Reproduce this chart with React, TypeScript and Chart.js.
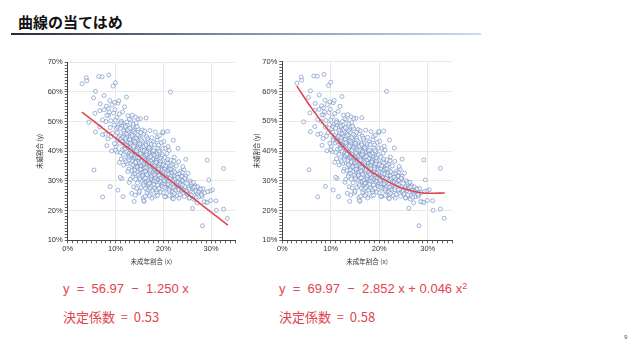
import React, { useEffect, useRef } from "react";
import { Chart, registerables } from "chart.js";

Chart.register(...registerables);

// ---- data (values in percent) ----
const xRange = [0, 35];
const yRange = [10, 70];
const majorStep = 10;

const outlierPoints: [number, number][] = [
  [3.0, 62.8], [3.9, 64.8], [4.0, 63.8], [6.5, 65.2], [7.2, 65.1], [8.6, 65.7], [10.0, 63.1], [9.5, 62.0],
  [5.4, 58.0], [5.8, 60.2], [7.6, 58.8], [12.3, 58.3], [21.5, 60.0], [4.4, 49.8], [5.8, 46.5], [5.7, 52.8],
  [5.5, 33.7], [7.3, 24.6], [8.9, 28.1], [10.5, 26.9], [11.0, 31.2], [11.6, 24.7], [13.9, 23.1], [15.9, 23.4],
  [18.8, 25.1], [23.1, 41.0], [24.7, 37.3], [26.1, 20.8], [28.2, 14.9], [29.2, 37.0], [29.5, 30.3], [32.6, 34.2],
  [32.6, 20.5], [33.4, 17.4], [31.1, 20.1], [29.9, 23.4], [30.3, 27.0], [29.8, 26.6], [29.3, 26.4], [31.0, 23.3],
  [28.5, 23.0], [29.2, 22.7], [27.4, 26.4], [27.8, 27.2], [25.4, 24.2], [25.9, 25.2], [26.5, 27.9], [23.9, 27.0],
  [24.1, 34.8], [24.0, 32.8], [23.9, 31.5], [24.5, 30.9], [20.9, 46.7], [19.9, 46.6], [22.1, 43.7], [22.2, 36.7],
  [21.6, 34.0], [21.0, 41.6], [19.1, 40.1], [19.0, 42.1], [20.3, 24.7], [21.3, 25.1], [22.1, 24.0], [22.3, 25.8],
  [16.4, 51.2], [14.7, 50.9], [13.7, 49.1], [12.1, 48.4], [11.1, 49.6], [10.8, 52.6], [10.5, 56.2], [10.7, 57.0],
  [9.8, 56.5], [9.3, 55.6], [8.8, 57.1], [8.5, 54.5], [8.7, 53.1], [8.5, 52.1], [9.0, 50.3], [8.0, 50.0],
  [7.3, 50.6], [6.7, 48.2], [6.7, 53.7], [6.8, 56.0], [7.6, 54.0], [8.2, 52.1], [8.9, 48.0], [7.9, 45.8],
  [9.4, 46.1], [8.2, 41.9], [9.2, 40.1], [9.8, 42.6], [11.3, 43.3], [10.0, 40.4], [7.3, 45.6], [9.6, 52.9],
  [9.1, 45.0], [8.4, 44.2], [9.7, 48.9], [8.1, 55.2], [9.9, 54.0], [11.5, 53.3], [12.6, 52.0], [12.9, 50.8],
  [13.5, 52.2], [14.2, 51.5], [11.9, 55.0], [10.3, 51.4], [28.0, 25.3], [26.9, 24.5], [27.1, 22.6], [23.3, 24.2],
];

const bandPoints: [number, number][] = [
  [10.2, 47.5], [10.8, 45.2], [10.5, 43.8], [10.1, 41.5], [10.7, 49.0], [10.4, 46.3], [10.9, 42.7], [10.3, 39.8], [10.6, 44.6], [10.0, 50.5], [10.8, 36.2], [10.5, 48.1],
  [11.3, 48.8], [11.7, 46.9], [11.1, 44.1], [11.9, 42.3], [11.4, 40.6], [11.6, 38.9], [11.2, 37.4], [11.8, 45.5], [11.5, 43.2], [11.0, 47.7], [11.4, 49.6], [11.9, 41.1], [11.7, 35.3], [11.3, 30.8], [11.1, 39.5], [11.6, 44.9], [11.8, 46.1], [11.2, 50.2],
  [12.4, 49.9], [12.1, 48.0], [12.8, 46.6], [12.5, 45.0], [12.2, 43.7], [12.9, 42.5], [12.6, 41.2], [12.3, 40.0], [12.7, 38.6], [12.0, 37.1], [12.5, 35.8], [12.8, 34.0], [12.1, 44.4], [12.6, 47.3], [12.9, 39.3], [12.4, 41.8], [12.2, 36.5], [12.7, 43.0], [12.3, 45.8], [12.6, 33.2], [12.9, 29.5], [12.5, 48.7], [12.0, 40.7], [12.8, 38.0], [12.2, 42.0],
  [13.2, 50.5], [13.6, 48.5], [13.9, 47.0], [13.4, 46.0], [13.1, 44.8], [13.7, 43.5], [13.3, 42.2], [13.8, 41.0], [13.5, 39.8], [13.0, 38.4], [13.6, 37.2], [13.2, 36.0], [13.9, 34.8], [13.4, 33.5], [13.7, 32.2], [13.1, 30.5], [13.5, 45.3], [13.8, 41.6], [13.3, 39.1], [13.9, 37.7], [13.0, 43.9], [13.6, 35.4], [13.2, 40.4], [13.7, 46.7], [13.8, 28.0], [13.4, 25.8], [13.1, 42.8], [13.5, 36.7], [13.9, 44.2], [13.3, 38.8], [13.6, 31.4], [13.0, 47.8],
  [14.3, 49.5], [14.7, 47.6], [14.1, 46.2], [14.9, 45.1], [14.5, 44.0], [14.2, 42.9], [14.8, 41.8], [14.4, 40.7], [14.6, 39.6], [14.0, 38.5], [14.9, 37.4], [14.3, 36.3], [14.7, 35.2], [14.1, 34.1], [14.5, 33.0], [14.8, 31.9], [14.2, 30.6], [14.6, 29.3], [14.4, 27.6], [14.9, 26.0], [14.0, 43.4], [14.7, 41.2], [14.3, 39.0], [14.8, 36.9], [14.5, 34.7], [14.1, 32.5], [14.6, 45.6], [14.2, 38.0], [14.9, 35.8], [14.4, 40.2], [14.8, 42.4], [14.0, 33.6], [14.6, 37.9], [14.3, 44.5], [14.5, 48.3], [14.1, 25.2],
  [15.2, 51.0], [15.6, 47.2], [15.9, 45.8], [15.3, 44.3], [15.7, 43.1], [15.1, 42.0], [15.5, 40.9], [15.8, 39.9], [15.4, 38.8], [15.0, 37.8], [15.6, 36.7], [15.2, 35.6], [15.9, 34.6], [15.3, 33.5], [15.7, 32.4], [15.1, 31.3], [15.5, 30.2], [15.8, 29.0], [15.4, 27.8], [15.0, 26.5], [15.9, 41.5], [15.2, 39.3], [15.6, 37.1], [15.3, 35.0], [15.8, 32.9], [15.1, 30.7], [15.4, 43.6], [15.7, 38.2], [15.0, 36.1], [15.5, 34.0], [15.9, 28.4], [15.3, 46.3], [15.6, 40.3], [15.8, 24.3], [15.1, 42.6], [15.4, 36.5], [15.7, 31.8], [15.2, 33.9],
  [16.1, 46.8], [16.5, 45.0], [16.8, 43.7], [16.3, 42.5], [16.7, 41.4], [16.0, 40.3], [16.4, 39.2], [16.9, 38.1], [16.2, 37.1], [16.6, 36.0], [16.1, 35.0], [16.8, 34.0], [16.4, 32.9], [16.7, 31.9], [16.0, 30.8], [16.5, 29.7], [16.9, 28.6], [16.3, 27.5], [16.6, 26.2], [16.2, 24.8], [16.0, 23.1], [16.9, 40.8], [16.3, 38.6], [16.7, 36.4], [16.1, 34.3], [16.5, 32.2], [16.8, 30.0], [16.4, 42.0], [16.0, 37.6], [16.6, 35.5], [16.2, 33.3], [16.9, 29.2], [16.5, 39.7], [16.7, 44.3], [16.3, 31.0], [16.8, 27.0], [16.1, 36.9], [16.4, 34.6], [16.6, 38.9],
  [17.2, 47.0], [17.6, 44.6], [17.9, 43.0], [17.4, 41.8], [17.1, 40.6], [17.7, 39.5], [17.3, 38.5], [17.8, 37.4], [17.5, 36.4], [17.0, 35.3], [17.6, 34.3], [17.2, 33.3], [17.9, 32.3], [17.4, 31.3], [17.7, 30.3], [17.1, 29.2], [17.5, 28.1], [17.8, 26.9], [17.3, 25.5], [17.6, 24.2], [17.0, 41.2], [17.9, 39.0], [17.4, 36.8], [17.2, 34.7], [17.8, 32.7], [17.5, 30.7], [17.1, 37.9], [17.7, 35.8], [17.3, 33.8], [17.6, 31.7], [17.9, 29.7], [17.5, 42.4], [17.2, 27.6], [17.8, 40.1], [17.0, 36.1], [17.4, 38.2], [17.7, 34.9], [17.1, 25.0],
  [18.3, 46.5], [18.7, 43.8], [18.1, 42.2], [18.9, 41.0], [18.5, 39.7], [18.2, 38.7], [18.8, 37.6], [18.4, 36.6], [18.6, 35.6], [18.0, 34.6], [18.9, 33.6], [18.3, 32.6], [18.7, 31.6], [18.1, 30.6], [18.5, 29.6], [18.8, 28.6], [18.2, 27.5], [18.6, 26.3], [18.4, 24.9], [18.0, 40.3], [18.7, 38.1], [18.3, 36.0], [18.9, 33.9], [18.5, 31.9], [18.1, 29.9], [18.6, 37.1], [18.2, 35.1], [18.8, 33.1], [18.4, 31.1], [18.0, 28.9], [18.7, 39.2], [18.3, 34.1], [18.9, 30.4], [18.5, 36.3], [18.8, 44.9], [18.1, 32.1], [18.6, 27.0],
  [19.2, 45.3], [19.6, 42.9], [19.9, 41.0], [19.3, 39.6], [19.7, 38.3], [19.1, 37.2], [19.5, 36.2], [19.8, 35.2], [19.4, 34.2], [19.0, 33.3], [19.6, 32.4], [19.2, 31.5], [19.9, 30.6], [19.3, 29.6], [19.7, 28.6], [19.1, 27.5], [19.5, 26.2], [19.8, 38.8], [19.4, 36.7], [19.0, 34.7], [19.6, 32.8], [19.2, 30.9], [19.9, 29.0], [19.3, 35.7], [19.7, 33.7], [19.1, 31.9], [19.5, 30.1], [19.4, 37.7], [19.8, 28.1], [19.0, 34.0], [19.6, 31.0], [19.9, 46.2],
  [20.1, 43.3], [20.5, 41.0], [20.8, 39.3], [20.3, 37.9], [20.7, 36.6], [20.0, 35.5], [20.4, 34.4], [20.9, 33.4], [20.2, 32.4], [20.6, 31.4], [20.1, 30.5], [20.8, 29.5], [20.4, 28.5], [20.7, 27.4], [20.0, 26.0], [20.5, 24.7], [20.9, 36.0], [20.3, 34.0], [20.6, 32.0], [20.2, 30.0], [20.8, 28.9], [20.5, 35.0], [20.1, 33.0], [20.7, 31.0], [20.4, 29.0], [20.9, 37.3], [20.3, 27.8], [20.6, 32.6],
  [21.2, 40.3], [21.6, 37.0], [21.9, 35.6], [21.3, 34.4], [21.7, 33.3], [21.1, 32.3], [21.5, 31.3], [21.8, 30.4], [21.4, 29.5], [21.0, 28.6], [21.6, 27.7], [21.2, 26.6], [21.9, 25.3], [21.3, 33.9], [21.7, 31.8], [21.1, 29.9], [21.5, 28.1], [21.8, 32.8], [21.4, 30.8], [21.0, 29.0], [21.6, 35.1], [21.2, 27.2], [21.9, 24.2],
  [22.3, 38.0], [22.7, 35.0], [22.1, 33.5], [22.9, 32.3], [22.5, 31.2], [22.2, 30.2], [22.8, 29.2], [22.4, 28.3], [22.6, 27.3], [22.0, 26.3], [22.9, 25.0], [22.3, 31.7], [22.7, 29.7], [22.1, 27.8], [22.5, 30.7], [22.8, 28.8], [22.4, 33.0], [22.6, 26.8],
  [23.2, 36.5], [23.6, 33.3], [23.9, 31.8], [23.4, 30.6], [23.1, 29.6], [23.7, 28.6], [23.3, 27.6], [23.8, 26.5], [23.5, 25.4], [23.0, 31.2], [23.6, 29.1], [23.2, 27.0], [23.9, 30.1], [23.4, 32.5],
  [24.3, 33.8], [24.7, 31.5], [24.1, 30.2], [24.9, 29.1], [24.5, 28.1], [24.2, 27.1], [24.8, 26.0], [24.4, 24.8], [24.6, 30.7], [24.0, 28.6], [24.9, 26.6],
  [25.2, 32.6], [25.6, 30.0], [25.9, 28.8], [25.3, 27.7], [25.7, 26.7], [25.1, 25.6], [25.5, 24.3], [25.8, 29.4], [25.4, 27.2],
  [26.3, 29.5], [26.7, 28.3], [26.1, 27.3], [26.9, 26.2], [26.5, 25.0], [26.2, 27.8], [26.8, 26.7], [26.4, 23.8],
  [27.2, 28.0], [27.6, 26.8], [27.9, 25.7], [27.4, 24.6], [27.7, 27.3],
  [28.3, 27.4], [28.7, 26.0], [28.1, 24.8], [28.9, 22.9],
];

// fitted curves
const linearFitX = [3, 33.5];
const linearFitY = [53.2, 15.1];
const quadFitX = [3, 6, 9, 12, 15, 18, 21, 24, 27, 30, 33.5];
const quadFitY = [61.8, 54.5, 48.0, 42.4, 37.5, 33.5, 30.4, 28.0, 26.5, 25.8, 25.9];

const xAxisTitle = "未成年割合 (x)";
const yAxisTitle = "未婚割合 (y)";

const RED = "#e2454e";

type PanelProps = {
  fitX: number[];
  fitY: number[];
  left: number;
  top: number;
  width: number;
  height: number;
  yAxisWidth: number;
  plotTop: number;
  plotBottom: number;
  yTitlePad: number;
};

function ScatterPanel(p: PanelProps) {
  const ref = useRef<HTMLCanvasElement | null>(null);
  useEffect(() => {
    const pts = [...bandPoints, ...outlierPoints].map(([x, y]) => ({ x, y }));
    const fit = p.fitX.map((x, i) => ({ x, y: p.fitY[i] }));
    const tickFont = { family: "'Liberation Sans', Arial, sans-serif", size: 7.5 };
    const titleFont = { family: "'Noto Sans CJK JP', sans-serif", size: 6.5 };
    const gridColor = (ctx: any) =>
      ctx.tick && Math.round(ctx.tick.value) % majorStep === 0 ? "#e9e9e9" : "rgba(0,0,0,0)";
    const chart = new Chart(ref.current!, {
      type: "scatter",
      data: {
        datasets: [
          {
            type: "line",
            data: fit,
            borderColor: RED,
            borderWidth: 1.6,
            pointRadius: 0,
            cubicInterpolationMode: "monotone",
            fill: false,
            order: 0,
          } as any,
          {
            data: pts,
            pointRadius: 2,
            borderWidth: 0.9,
            borderColor: "rgba(112,142,196,0.72)",
            backgroundColor: "rgba(255,255,255,0.55)",
            order: 1,
          },
        ],
      },
      options: {
        animation: false,
        responsive: false,
        maintainAspectRatio: false,
        events: [],
        layout: { padding: { top: p.plotTop, right: 10, left: 0, bottom: 0 } },
        plugins: { legend: { display: false }, tooltip: { enabled: false } },
        scales: {
          x: {
            type: "linear",
            min: xRange[0],
            max: xRange[1],
            ticks: {
              stepSize: 1,
              autoSkip: false,
              maxRotation: 0,
              padding: 1,
              color: "#333",
              font: tickFont,
              callback: (v: any) => (Math.round(v) % majorStep === 0 ? `${v}%` : ""),
            },
            grid: { color: gridColor, tickColor: "#666", tickLength: 3, lineWidth: 1 },
            border: { color: "#444", width: 1 },
            title: { display: true, text: xAxisTitle, color: "#333", font: titleFont, padding: { top: 0, bottom: 5 } },
            afterFit: (s: any) => {
              s.height = p.height - p.plotBottom;
            },
          },
          y: {
            type: "linear",
            min: yRange[0],
            max: yRange[1],
            ticks: {
              stepSize: 1,
              autoSkip: false,
              padding: 2,
              color: "#333",
              font: tickFont,
              callback: (v: any) => (Math.round(v) % majorStep === 0 ? `${v}%` : ""),
            },
            grid: { color: gridColor, tickColor: "#666", tickLength: 3, lineWidth: 1 },
            border: { color: "#444", width: 1 },
            title: { display: true, text: yAxisTitle, color: "#333", font: titleFont, padding: { top: p.yTitlePad, bottom: 0 } },
            afterFit: (s: any) => {
              s.width = p.yAxisWidth;
            },
          },
        },
      },
    });
    return () => chart.destroy();
  }, []);
  return (
    <canvas
      ref={ref}
      width={p.width}
      height={p.height}
      style={{ position: "absolute", left: p.left, top: p.top, width: p.width, height: p.height }}
    />
  );
}

const eqStyle: React.CSSProperties = {
  position: "absolute",
  color: RED,
  fontFamily: "'Liberation Sans', 'Noto Sans CJK JP', sans-serif",
  fontSize: 13,
  whiteSpace: "pre",
  lineHeight: "16px",
};

export default function App() {
  return (
    <div
      style={{
        position: "fixed",
        left: 0,
        top: 0,
        width: 640,
        height: 358,
        background: "#fff",
        overflow: "hidden",
      }}
    >
      <div
        style={{
          position: "absolute",
          left: 18,
          top: 12,
          fontFamily: "'Noto Sans CJK JP', sans-serif",
          fontWeight: 700,
          fontSize: 15,
          lineHeight: "20px",
          color: "#111",
        }}
      >
        曲線の当てはめ
      </div>
      <div
        style={{
          position: "absolute",
          left: 11,
          top: 33,
          width: 470,
          height: 2,
          background: "linear-gradient(to right, #262a38, #7d8aa0 45%, #cddbee)",
        }}
      />
      <ScatterPanel
        fitX={linearFitX}
        fitY={linearFitY}
        left={30}
        top={55}
        width={215}
        height={215}
        yAxisWidth={37.7}
        plotTop={7.3}
        plotBottom={185.3}
        yTitlePad={6}
      />
      <ScatterPanel
        fitX={quadFitX}
        fitY={quadFitY}
        left={245}
        top={55}
        width={217}
        height={215}
        yAxisWidth={37.3}
        plotTop={6.7}
        plotBottom={185.3}
        yTitlePad={7.5}
      />
      <div style={{ ...eqStyle, left: 63, top: 281 }}>{"y  =  56.97  −  1.250 x"}</div>
      <div style={{ ...eqStyle, left: 63, top: 309, fontFamily: "'Noto Sans CJK JP', sans-serif" }}>
        {"決定係数  =  0.53"}
      </div>
      <div style={{ ...eqStyle, left: 279, top: 281 }}>
        {"y  =  69.97  −  2.852 x + 0.046 x"}
        <sup style={{ fontSize: 9, verticalAlign: "top", position: "relative", top: -3 }}>2</sup>
      </div>
      <div style={{ ...eqStyle, left: 279, top: 309, fontFamily: "'Noto Sans CJK JP', sans-serif" }}>
        {"決定係数  =  0.58"}
      </div>
      <div
        style={{
          position: "absolute",
          left: 624,
          top: 334,
          fontSize: 6,
          color: "#555",
          fontFamily: "'Liberation Sans', sans-serif",
        }}
      >
        9
      </div>
    </div>
  );
}
